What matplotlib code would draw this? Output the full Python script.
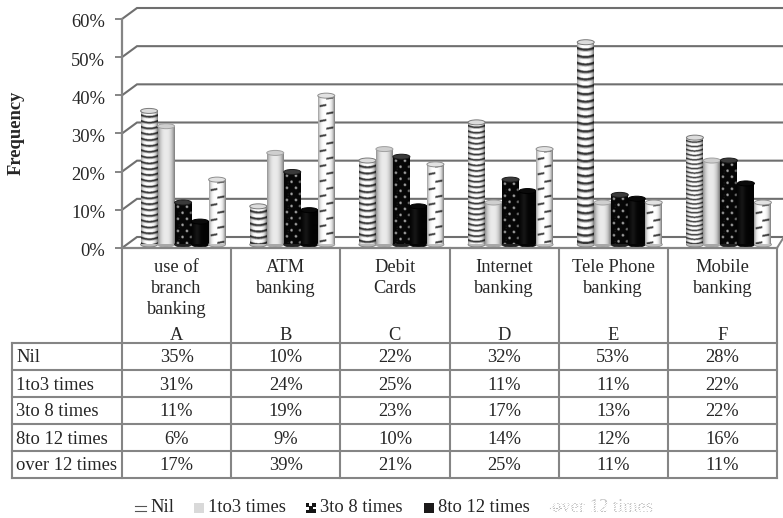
import numpy as np
import matplotlib

matplotlib.use("Agg")
import matplotlib.pyplot as plt
from matplotlib.patches import Ellipse, Rectangle
from matplotlib.transforms import ScaledTranslation

plt.rcParams["font.family"] = ["Liberation Serif", "DejaVu Serif"]

channels = [
    ["use of", "branch", "banking"],
    ["ATM", "banking"],
    ["Debit", "Cards"],
    ["Internet", "banking"],
    ["Tele Phone", "banking"],
    ["Mobile", "banking"],
]
column_letters = ["A", "B", "C", "D", "E", "F"]
series_names = ["Nil", "1to3 times", "3to 8 times", "8to 12 times", "over 12 times"]

nil = [35, 10, 22, 32, 53, 28]
one_to_three = [31, 24, 25, 11, 11, 22]
three_to_eight = [11, 19, 23, 17, 13, 22]
eight_to_twelve = [6, 9, 10, 14, 12, 16]
over_twelve = [17, 39, 21, 25, 11, 11]
series_values = [nil, one_to_three, three_to_eight, eight_to_twelve, over_twelve]

y_ticks = [0, 10, 20, 30, 40, 50, 60]

# stripe spacing of the "Nil" cylinders differs per column
nil_stripe_period = [5.8, 6.2, 6.2, 5.4, 7.4, 4.4]

W, H = 783, 518
GRAY = "#858585"
TEXT = "#262626"
FS = 13.3
AX_LEFT, AX_RIGHT, AX_TOP, AX_BOTTOM = 122, 777, 19, 248
COL_W = (AX_RIGHT - AX_LEFT) / 6
PX_PER_UNIT = (AX_BOTTOM - AX_TOP) / 60
SS = 3  # texture samples per pixel


def shade(u):
    # round-cylinder falloff towards both sides
    return 0.5 + 0.5 * (1 - np.abs(2 * u - 0.95) ** 3.5).clip(0, 1)


def grid_uv(w, h):
    xs = (np.arange(int(w * SS)) + 0.5) / SS
    ys = (np.arange(int(h * SS)) + 0.5) / SS
    return np.meshgrid(xs, ys)


def tex_stripes(w, h, period):
    x, y = grid_uv(w, h)
    u = x / w
    bend = 1.8 * (2 * u - 1) ** 2
    phase = ((y + bend) % period) / period
    img = np.where(phase < 0.3, 0.22, 1.0)
    img = np.where((phase >= 0.3) & (phase < 0.45), 0.7, img)
    return img * shade(u)


def tex_plain(w, h):
    x, y = grid_uv(w, h)
    u = x / w
    return 0.92 * (0.55 + 0.45 * (1 - np.abs(2 * u - 0.95) ** 2.5).clip(0, 1))


def tex_balls(w, h):
    x, y = grid_uv(w, h)
    u = x / w
    img = np.full(x.shape, 0.97)
    period = 12.0
    for row in range(-1, int(h / (period / 2)) + 2):
        cy = row * period / 2
        for cx in (w * 0.25, w * 0.78) if row % 2 else (w * 0.52, w * -0.02, w * 1.02):
            img[np.hypot(x - cx, y - cy) < 4.6] = 0.03
            img[np.hypot(x - cx + 1.3, y - cy + 1.3) < 1.3] = 0.65
    return img * shade(u)


def tex_black(w, h):
    x, y = grid_uv(w, h)
    return 0.015 + 0.07 * np.exp(-(((x / w) - 0.3) / 0.18) ** 2)


def tex_dashes(w, h):
    x, y = grid_uv(w, h)
    u = x / w
    img = np.ones(x.shape)
    period = 7.5
    for row in range(0, int(h / period) + 2):
        cx = w * (0.3 if row % 2 else 0.7)
        cy = row * period + 3
        tilt = y - cy + 0.18 * (x - cx)
        img[(np.abs(x - cx) < 3.4) & (np.abs(tilt) < 1.0)] = 0.25
    return img * shade(u)


def texture_for(series, col, w, h):
    if series == 0:
        return tex_stripes(w, h, nil_stripe_period[col])
    if series == 1:
        return tex_plain(w, h)
    if series == 2:
        return tex_balls(w, h)
    if series == 3:
        return tex_black(w, h)
    return tex_dashes(w, h)


top_colors = ["#dcdcdc", "#cfcfcf", "#3a3a3a", "#0a0a0a", "#e2e2e2"]
base_colors = ["#b8b8b8", "#a8a8a8", "#222222", "#050505", "#c0c0c0"]
edge_colors = ["#7a7a7a", "#a0a0a0", "#1a1a1a", "#000000", "#8e8e8e"]

fig = plt.figure(figsize=(W / 100, H / 100), dpi=100, facecolor="white")

ax = fig.add_axes([AX_LEFT / W, 1 - AX_BOTTOM / H,
                   (AX_RIGHT - AX_LEFT) / W, (AX_BOTTOM - AX_TOP) / H])
ax.set_xlim(-0.5, 5.5)
ax.set_ylim(0, 60)
ax.patch.set_visible(False)
for name in ("top", "right"):
    ax.spines[name].set_visible(False)
for name in ("left", "bottom"):
    ax.spines[name].set_color(GRAY)
    ax.spines[name].set_linewidth(1.6)
ax.set_xticks([])
ax.set_yticks(y_ticks)
ax.set_yticklabels([f"{t}%" for t in y_ticks], fontsize=FS, color=TEXT)
ax.tick_params(axis="y", length=5, width=1.4, color=GRAY, pad=7)
nudge = ScaledTranslation(0, -2 / 100, fig.dpi_scale_trans)
for lab in ax.get_yticklabels():
    lab.set_transform(lab.get_transform() + nudge)
ax.set_ylabel("Frequency", fontsize=FS, fontweight="bold", color=TEXT)
ax.yaxis.set_label_coords(-97 / (AX_RIGHT - AX_LEFT), 0.505)

# back wall lines, pushed up and to the right for the depth effect
depth_x = 15 / COL_W
depth_y = 11 / PX_PER_UNIT
for t in y_ticks:
    ax.plot([-0.5, -0.5 + depth_x, 5.6], [t, t + depth_y, t + depth_y],
            color="#6f6f6f", lw=1.5, zorder=1, clip_on=False, solid_joinstyle="miter")
ax.plot([5.5, 5.56], [0, depth_y * 0.95], color=GRAY, lw=1.4, zorder=1, clip_on=False)

# cylinders
bar_w = 17 / COL_W
floor = 3.5 / PX_PER_UNIT
cap_h = 5 / PX_PER_UNIT
group_shift = 6.5 / COL_W
x_pos = np.arange(len(channels))
for s, values in enumerate(series_values):
    lefts = x_pos + group_shift + (s - 2) * bar_w
    bars = ax.bar(lefts, values, width=bar_w, bottom=floor, facecolor="none",
                  edgecolor="none", zorder=3)
    for col, rect in enumerate(bars):
        x0, y0 = rect.get_x(), rect.get_y()
        bw, bh = rect.get_width(), rect.get_height()
        cx = x0 + bw / 2
        ax.add_patch(Ellipse((cx, y0), bw, cap_h, facecolor=base_colors[s],
                             edgecolor=edge_colors[s], lw=0.6, zorder=2 + s * 0.1))
        tex = texture_for(s, col, bw * COL_W, bh * PX_PER_UNIT)
        im = ax.imshow(tex, cmap="gray", vmin=0, vmax=1, origin="upper", aspect="auto",
                       extent=[x0, x0 + bw, y0, y0 + bh], interpolation="bilinear",
                       zorder=2.02 + s * 0.1)
        im.set_clip_path(Rectangle((x0, y0), bw, bh, transform=ax.transData))
        ax.add_patch(Ellipse((cx, y0 + bh), bw, cap_h, facecolor=top_colors[s],
                             edgecolor=edge_colors[s], lw=0.7, zorder=2.05 + s * 0.1))
ax.set_xlim(-0.5, 5.5)
ax.set_ylim(0, 60)

# table and legend are laid out in figure pixels
page = fig.add_axes([0, 0, 1, 1])
page.set_xlim(0, W)
page.set_ylim(H, 0)
page.axis("off")
page.patch.set_visible(False)

TABLE_LEFT = 12
HEADER_BOTTOM = 343
ROW_H = 27
TABLE_BOTTOM = HEADER_BOTTOM + ROW_H * len(series_names)
col_edges = [AX_LEFT + COL_W * i for i in range(7)]

for i, xe in enumerate(col_edges):
    page.plot([xe, xe], [AX_BOTTOM, TABLE_BOTTOM], color=GRAY, lw=1.5)
for r in range(len(series_names) + 1):
    yl = HEADER_BOTTOM + r * ROW_H
    page.plot([TABLE_LEFT, AX_RIGHT], [yl, yl], color=GRAY, lw=1.5)
page.plot([TABLE_LEFT, TABLE_LEFT], [HEADER_BOTTOM, TABLE_BOTTOM], color=GRAY, lw=1.5)

for i, lines in enumerate(channels):
    xc = (col_edges[i] + col_edges[i + 1]) / 2
    for j, line in enumerate(lines):
        page.text(xc, 267 + j * 21.5, line, ha="center", va="center", fontsize=FS, color=TEXT)
    page.text(xc, 336, column_letters[i], ha="center", va="center", fontsize=FS, color=TEXT)

for r, (name, values) in enumerate(zip(series_names, series_values)):
    yc = HEADER_BOTTOM + (r + 0.5) * ROW_H + 1.5
    page.text(TABLE_LEFT + 4, yc, name, ha="left", va="center", fontsize=FS, color=TEXT)
    for i, v in enumerate(values):
        xc = (col_edges[i] + col_edges[i + 1]) / 2
        page.text(xc, yc, f"{v}%", ha="center", va="center", fontsize=FS, color=TEXT)

LEG_Y = 508
page.plot([135, 146], [505.5, 505.5], color="#555555", lw=0.8)
page.plot([135, 146], [511, 511], color="#555555", lw=0.8)
page.text(150, LEG_Y, series_names[0], va="center", fontsize=FS, color=TEXT)
page.add_patch(Rectangle((194, 503), 10, 10, facecolor="#d9d9d9", edgecolor="none"))
page.text(208, LEG_Y, series_names[1], va="center", fontsize=FS, color=TEXT)
page.add_patch(Rectangle((306, 503), 10, 10, facecolor="#151515", edgecolor="none"))
page.add_patch(Rectangle((309, 503), 2.5, 3, facecolor="white", edgecolor="none"))
page.add_patch(Rectangle((306, 507), 3, 2.5, facecolor="white", edgecolor="none"))
page.add_patch(Rectangle((313, 507), 3, 2, facecolor="white", edgecolor="none"))
page.text(320, LEG_Y, series_names[2], va="center", fontsize=FS, color=TEXT)
page.add_patch(Rectangle((424, 503), 10, 10, facecolor="#1c1a1a", edgecolor="none"))
page.text(438, LEG_Y, series_names[3], va="center", fontsize=FS, color=TEXT)

# last legend entry is washed out, with white flecks over the type
page.plot([550, 561], [508, 508], color="#bbbbbb", lw=0.8)
page.text(552, LEG_Y, series_names[4], va="center", fontsize=FS, color="#c4c4c4")
flecks = np.ones((14, 115, 4))
flecks[..., 3] = ((np.add.outer(np.arange(14) * 3, np.arange(115) * 2) % 7) < 3) * 1.0
page.imshow(flecks, extent=[551, 666, 515, 501], aspect="auto", zorder=5,
            interpolation="nearest")
page.set_xlim(0, W)
page.set_ylim(H, 0)

fig.savefig("out.png", dpi=100)
plt.close(fig)
